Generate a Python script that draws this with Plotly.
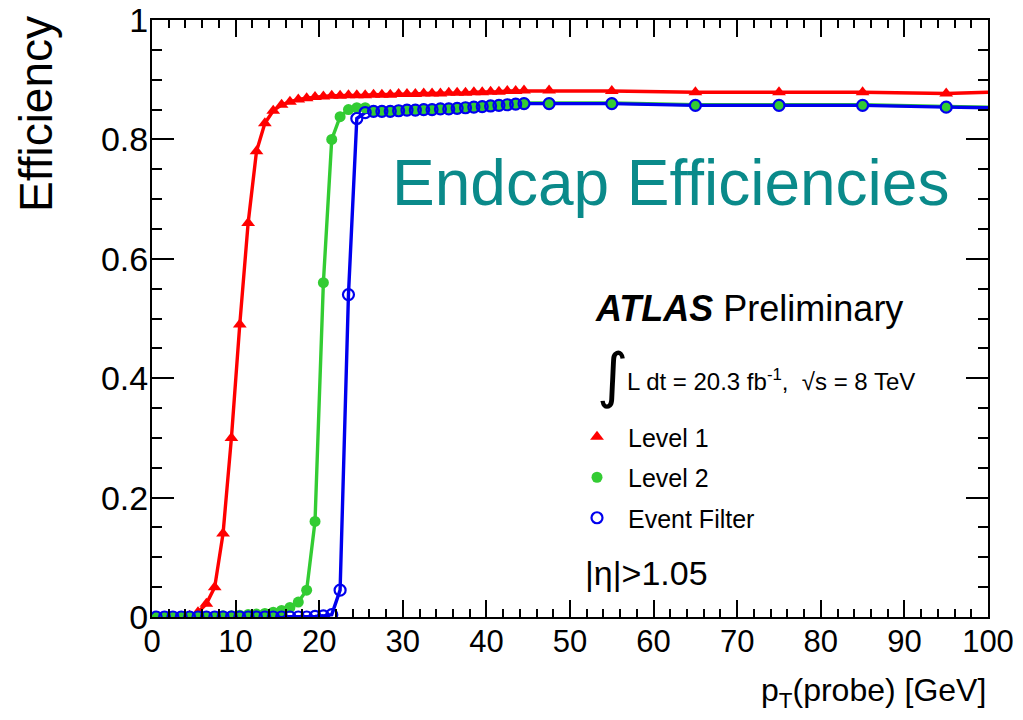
import plotly.graph_objects as go

# ---- data ----
pt = [0.5, 1.5, 2.5, 3.5, 4.5, 5.5, 6.5, 7.5, 8.5, 9.5,
      10.5, 11.5, 12.5, 13.5, 14.5, 15.5, 16.5, 17.5, 18.5, 19.5,
      20.5, 21.5, 22.5, 23.5, 24.5, 25.5, 26.5, 27.5, 28.5, 29.5,
      30.5, 31.5, 32.5, 33.5, 34.5, 35.5, 36.5, 37.5, 38.5, 39.5,
      40.5, 41.5, 42.5, 43.5, 44.5, 47.5, 55, 65, 75, 85, 95]

eff_l1 = [0.0, 0.0, 0.0, 0.0, 0.002, 0.008, 0.022, 0.05, 0.14, 0.30,
          0.49, 0.66, 0.78, 0.827, 0.848, 0.858, 0.863, 0.867, 0.869, 0.871,
          0.872, 0.873, 0.873, 0.874, 0.874, 0.874, 0.875, 0.875, 0.875, 0.876,
          0.876, 0.876, 0.877, 0.877, 0.877, 0.878, 0.878, 0.878, 0.879, 0.879,
          0.880, 0.880, 0.881, 0.881, 0.882, 0.882, 0.881, 0.879, 0.879, 0.879, 0.877]

eff_l2 = [0.0, 0.0, 0.0, 0.0, 0.0, 0.0, 0.001, 0.001, 0.002, 0.002,
          0.003, 0.004, 0.005, 0.006, 0.008, 0.011, 0.016, 0.025, 0.045, 0.16,
          0.56, 0.80, 0.838, 0.850, 0.853, 0.853, 0.848, 0.848, 0.848, 0.849,
          0.850, 0.850, 0.851, 0.851, 0.852, 0.852, 0.853, 0.854, 0.855, 0.856,
          0.857, 0.858, 0.859, 0.860, 0.861, 0.861, 0.861, 0.858, 0.858, 0.858, 0.855]

eff_ef = [0.0, 0.0, 0.0, 0.0, 0.0, 0.0, 0.0, 0.0, 0.0, 0.0,
          0.0, 0.0, 0.0, 0.0, 0.0, 0.0, 0.0, 0.0, 0.0, 0.001,
          0.002, 0.004, 0.045, 0.54, 0.835, 0.845, 0.847, 0.847, 0.847, 0.848,
          0.849, 0.849, 0.850, 0.850, 0.851, 0.851, 0.852, 0.853, 0.854, 0.855,
          0.856, 0.857, 0.858, 0.859, 0.860, 0.860, 0.860, 0.857, 0.857, 0.857, 0.854]

# fitted curves continue to the right edge of the frame
curve_end_x = 100
curve_end_l1 = 0.879
curve_end_l2 = 0.854
curve_end_ef = 0.853

series_names = ["Level 1", "Level 2", "Event Filter"]
x_ticks = [0, 10, 20, 30, 40, 50, 60, 70, 80, 90, 100]
y_ticks = [0, 0.2, 0.4, 0.6, 0.8, 1]

RED = "#ff0000"
GREEN = "#33cc33"
BLUE = "#0000ee"
TEAL = "#0a8a8a"
FONT = "Liberation Sans, Arial, sans-serif"

fig = go.Figure()

# curves (no legend)
for y, end, col in [(eff_l1, curve_end_l1, RED), (eff_l2, curve_end_l2, GREEN),
                    (eff_ef, curve_end_ef, BLUE)]:
    fig.add_trace(go.Scatter(x=[0] + pt + [curve_end_x], y=[y[0]] + y + [end],
                             mode="lines", line=dict(color=col, width=3.4),
                             showlegend=False, hoverinfo="skip"))

# markers
fig.add_trace(go.Scatter(x=pt, y=eff_l1, mode="markers", name=series_names[0],
                         legendgroup="a",
                         marker=dict(symbol="triangle-up", size=12, color=RED)))
fig.add_trace(go.Scatter(x=pt, y=eff_l2, mode="markers", name=series_names[1],
                         legendgroup="b",
                         marker=dict(symbol="circle", size=11, color=GREEN)))
fig.add_trace(go.Scatter(x=pt, y=eff_ef, mode="markers", name=series_names[2],
                         legendgroup="c",
                         marker=dict(symbol="circle-open", size=11, color=BLUE,
                                     line=dict(width=2.2, color=BLUE))))

axis_common = dict(showline=True, linecolor="black", linewidth=2, mirror="ticks",
                   ticks="inside", tickcolor="black", tickwidth=1.5,
                   showgrid=False, zeroline=False, automargin=False)

fig.update_xaxes(range=[0, 100], tickvals=x_ticks, ticklen=17,
                 minor=dict(dtick=2, ticklen=8, ticks="inside", tickcolor="black", tickwidth=1.5),
                 tickfont=dict(family=FONT, size=31, color="black"),
                 ticklabelstandoff=-4,
                 **axis_common)
fig.update_yaxes(range=[0, 1], tickvals=y_ticks, ticklen=22,
                 minor=dict(dtick=0.05, ticklen=10, ticks="inside", tickcolor="black", tickwidth=1.5),
                 tickfont=dict(family=FONT, size=34, color="black"),
                 ticklabelstandoff=-5,
                 **axis_common)

ann = []
ann.append(dict(text="Efficiency", textangle=-90, xref="paper", yref="paper",
                x=0, y=1, xanchor="center", yanchor="top", xshift=-116, yshift=6,
                showarrow=False, font=dict(family=FONT, size=46, color="black")))
ann.append(dict(text="p<sub>T</sub>(probe) [GeV]", xref="paper", yref="paper",
                x=1, y=-0.127, xanchor="right", yanchor="middle",
                showarrow=False, font=dict(family=FONT, size=32, color="black")))
ann.append(dict(text="Endcap Efficiencies", xref="x", yref="y", x=62, y=0.727,
                xanchor="center", yanchor="middle", showarrow=False,
                font=dict(family=FONT, size=64, color=TEAL)))
ann.append(dict(text="<b><i>ATLAS</i></b> Preliminary", xref="x", yref="y", x=52.7, y=0.516,
                xanchor="left", yanchor="middle", showarrow=False,
                font=dict(family=FONT, size=36, color="black")))
ann.append(dict(text="∫", xref="x", yref="y", x=55.1, y=0.405,
                xanchor="center", yanchor="middle", showarrow=False,
                font=dict(family="DejaVu Sans", size=60, color="black")))
ann.append(dict(text="L dt = 20.3 fb<sup>-1</sup>,  √s = 8 TeV", xref="x", yref="y",
                x=56.6, y=0.397, xanchor="left", yanchor="middle", showarrow=False,
                font=dict(family=FONT, size=24, color="black")))
ann.append(dict(text="|η|>1.05", xref="x", yref="y", x=51.6, y=0.074,
                xanchor="left", yanchor="middle", showarrow=False,
                font=dict(family=FONT, size=34, color="black")))

fig.update_layout(
    width=1023, height=720,
    margin=dict(l=152, r=35, t=20, b=103, autoexpand=False),
    paper_bgcolor="white", plot_bgcolor="white",
    annotations=ann,
    legend=dict(x=(566 - 152) / 836, y=(617 - 414) / 597, xanchor="left", yanchor="top",
                bgcolor="rgba(0,0,0,0)", font=dict(family=FONT, size=25, color="black"),
                tracegroupgap=5, itemwidth=52),
)

fig.write_html("out.html", config={"displayModeBar": False},
               post_script="document.body.style.margin='0';document.body.style.padding='0';")
